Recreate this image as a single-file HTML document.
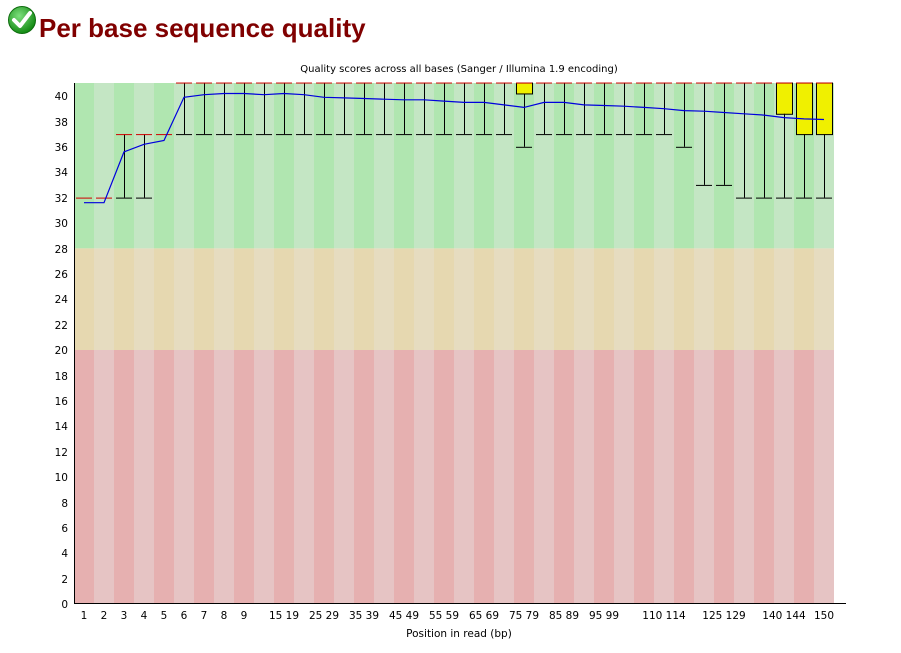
<!DOCTYPE html>
<html><head><meta charset="utf-8"><style>
body{margin:0;background:#fff;width:901px;height:653px;overflow:hidden}
svg{display:block}
text{font-family:"DejaVu Sans","Liberation Sans",sans-serif}
</style></head><body>
<svg id="s" width="901" height="653" xmlns="http://www.w3.org/2000/svg">
<defs><radialGradient id="g" cx="40%" cy="35%" r="65%"><stop offset="0" stop-color="#7ee07e"/><stop offset="1" stop-color="#138a13"/></radialGradient></defs>
<circle cx="22" cy="20" r="13.5" fill="url(#g)" stroke="#0d6b0d" stroke-width="1"/>
<path d="M14 20 L20 26 L30 13" stroke="#fff" stroke-width="4" fill="none" stroke-linecap="round" stroke-linejoin="round"/>
<text x="39" y="37" style="font-family:'Liberation Sans',sans-serif" font-size="26" font-weight="bold" fill="#800000">Per base sequence quality</text>
<g id="bg"></g>
<g id="fg"></g>
<text x="459" y="72" font-size="10" text-anchor="middle">Quality scores across all bases (Sanger / Illumina 1.9 encoding)</text>
<g font-size="10.5" text-anchor="end">
<text x="68" y="608">0</text><text x="68" y="583">2</text><text x="68" y="557">4</text><text x="68" y="532">6</text><text x="68" y="507">8</text><text x="68" y="481">10</text><text x="68" y="456">12</text><text x="68" y="430">14</text><text x="68" y="405">16</text><text x="68" y="380">18</text><text x="68" y="354">20</text><text x="68" y="329">22</text><text x="68" y="303">24</text><text x="68" y="278">26</text><text x="68" y="253">28</text><text x="68" y="227">30</text><text x="68" y="202">32</text><text x="68" y="176">34</text><text x="68" y="151">36</text><text x="68" y="126">38</text><text x="68" y="100">40</text>
</g>
<g font-size="10.5" text-anchor="middle">
<text x="84" y="619">1</text><text x="104" y="619">2</text><text x="124" y="619">3</text><text x="144" y="619">4</text><text x="164" y="619">5</text><text x="184" y="619">6</text><text x="204" y="619">7</text><text x="224" y="619">8</text><text x="244" y="619">9</text>
<text x="284" y="619">15 19</text><text x="324" y="619">25 29</text><text x="364" y="619">35 39</text><text x="404" y="619">45 49</text><text x="444" y="619">55 59</text><text x="484" y="619">65 69</text><text x="524" y="619">75 79</text><text x="564" y="619">85 89</text><text x="604" y="619">95 99</text><text x="664" y="619">110 114</text><text x="724" y="619">125 129</text><text x="784" y="619">140 144</text><text x="824" y="619">150</text>
</g>
<text x="459" y="637" font-size="10.5" text-anchor="middle">Position in read (bp)</text>
<line x1="74.5" y1="83" x2="74.5" y2="604" stroke="#000"/>
<line x1="74" y1="603.5" x2="846" y2="603.5" stroke="#000"/>
</svg>
<script>
var NS="http://www.w3.org/2000/svg";
function Y(v){return 604-v*12.7;}
function el(p,t,a){var e=document.createElementNS(NS,t);for(var k in a)e.setAttribute(k,a[k]);p.appendChild(e);return e;}
var bg=document.getElementById('bg'),fg=document.getElementById('fg');
for(var i=0;i<38;i++){var x=74+i*20,d=i%2==0;
el(bg,'rect',{x:x,y:83,width:20,height:Y(28)-83,fill:d?'#b0e6b0':'#c4e6c4'});
el(bg,'rect',{x:x,y:Y(28),width:20,height:Y(20)-Y(28),fill:d?'#e6d8b0':'#e6dcc0'});
el(bg,'rect',{x:x,y:Y(20),width:20,height:604-Y(20),fill:d?'#e6b0b0':'#e6c4c4'});}
var T=41.06;
var D=[];
for(var i=0;i<38;i++)D.push([37,T,T,T,T]);
D[0]=[32,32,32,32,32];D[1]=[32,32,32,32,32];
D[2]=[32,37,37,37,37];D[3]=[32,37,37,37,37];D[4]=[37,37,37,37,37];
D[22]=[36,40.2,T,T,T];D[30]=[36,T,T,T,T];D[31]=[33,T,T,T,T];D[32]=[33,T,T,T,T];
D[33]=[32,T,T,T,T];D[34]=[32,T,T,T,T];D[35]=[32,38.6,T,T,T];D[36]=[32,37,T,T,T];D[37]=[32,37,T,T,T];
var M=[31.6,31.6,35.6,36.2,36.5,39.9,40.1,40.2,40.2,40.1,40.2,40.1,39.9,39.85,39.8,39.75,39.7,39.7,39.6,39.5,39.5,39.3,39.1,39.5,39.5,39.3,39.25,39.2,39.1,39.0,38.85,38.8,38.7,38.6,38.5,38.3,38.2,38.15];
for(var i=0;i<38;i++){var x=74+i*20,c=x+10.5,d=D[i];
if(d[3]>d[1]+0.05)el(fg,'rect',{x:x+2.5,y:Y(d[3])+0.5,width:16,height:Y(d[1])-Y(d[3]),fill:'#f0f000',stroke:'#000','stroke-width':1});
if(d[4]>d[3]+0.05){el(fg,'line',{x1:c,y1:Y(d[4]),x2:c,y2:Y(d[3]),stroke:'#000'});el(fg,'line',{x1:x+2,y1:Y(d[4]),x2:x+18,y2:Y(d[4]),stroke:'#000'});}
if(d[1]>d[0]+0.05){el(fg,'line',{x1:c,y1:Y(d[1]),x2:c,y2:Y(d[0]),stroke:'#000'});el(fg,'line',{x1:x+2,y1:Y(d[0])+0.5,x2:x+18,y2:Y(d[0])+0.5,stroke:'#000'});}
el(fg,'line',{x1:x+2,y1:Y(d[2])+0.5,x2:x+18,y2:Y(d[2])+0.5,stroke:'#d00000'});}
var pts=M.map(function(v,i){return (84+i*20)+','+Y(v).toFixed(1)}).join(' ');
el(fg,'polyline',{points:pts,fill:'none',stroke:'#0000dd','stroke-width':1.2});
</script>
</body></html>
